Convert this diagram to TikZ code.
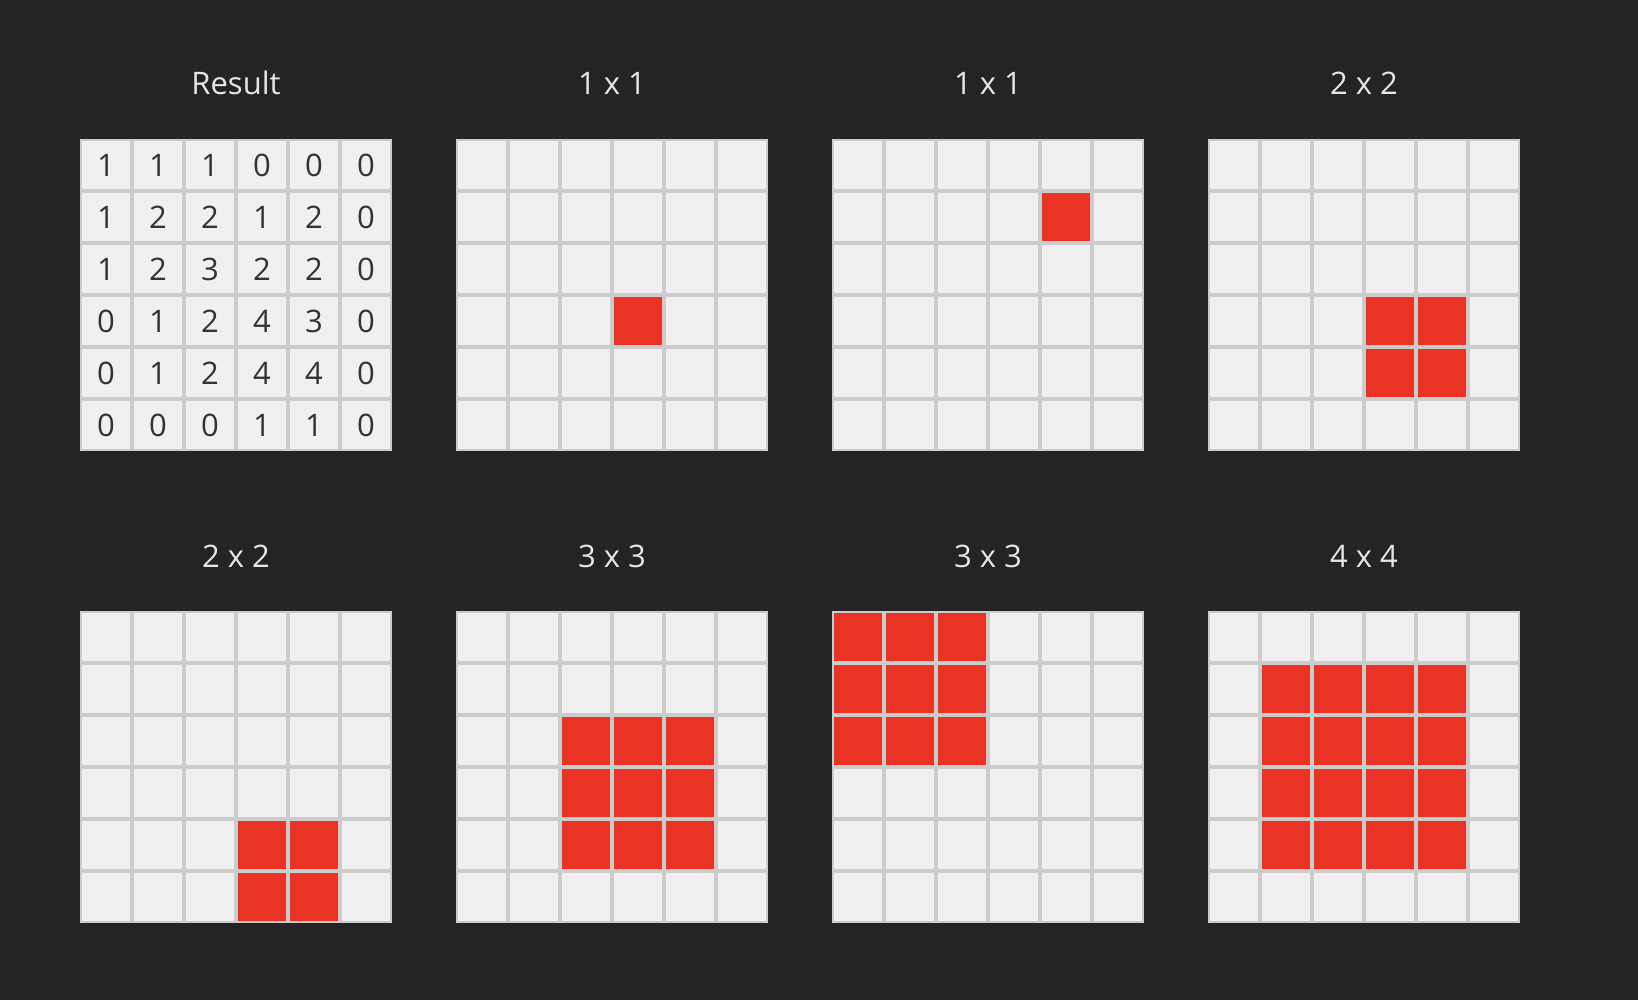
\documentclass[tikz,border=0pt]{standalone}
\usepackage{fontspec}
\setmainfont{Open Sans}
\definecolor{bgcol}{HTML}{242424}
\definecolor{cellcol}{HTML}{F0F0F0}
\definecolor{linecol}{HTML}{CCCCCC}
\definecolor{hitcol}{HTML}{EA3324}
\definecolor{titlecol}{HTML}{E6E6E6}
\definecolor{numcol}{HTML}{333333}
\tikzset{
  panelbox/.style={rectangle, fill=linecol, draw=none, minimum width=312pt, minimum height=312pt, inner sep=0pt, outer sep=0pt, anchor=north west},
  paneltitle/.style={text=titlecol, font=\fontsize{31}{37}\selectfont, inner sep=0pt, anchor=base},
  numtext/.style={text=numcol, font=\fontsize{31}{37}\selectfont, inner sep=0pt, anchor=center},
  cellsq/.style={fill=cellcol},
  hitsq/.style={fill=hitcol}
}
\newcommand\drawpanel[5]{%
  \node[panelbox] (#1) at (#2,#3) {};
  \node[paneltitle] (#1-title) at (#2+156,#3-44) {#4};
  \foreach \cc in {0,...,5}{\foreach \rr in {0,...,5}{%
    \fill[cellsq] (#2+52*\cc+2,#3+52*\rr+2) rectangle ++(48,48);}}
  \foreach \cc/\rr in {#5}{%
    \fill[hitsq] (#2+52*\cc+2,#3+52*\rr+2) rectangle ++(48,48);}
}
\begin{document}
\begin{tikzpicture}[x=1pt,y=-1pt]
\fill[bgcol] (0,0) rectangle (1638,1000);
\useasboundingbox (0,0) rectangle (1638,1000);
% Result panel
\node[panelbox] (result) at (80,139) {};
\node[paneltitle] (result-title) at (236,95) {Result};
\foreach \cc in {0,...,5}{\foreach \rr in {0,...,5}{%
  \fill[cellsq] (80+52*\cc+2,139+52*\rr+2) rectangle ++(48,48);}}
\foreach \row [count=\rr from 0] in {{1,1,1,0,0,0},{1,2,2,1,2,0},{1,2,3,2,2,0},{0,1,2,4,3,0},{0,1,2,4,4,0},{0,0,0,1,1,0}}{%
  \foreach \v [count=\cc from 0] in \row {%
    \node[numtext] (n-\rr-\cc) at (80+52*\cc+26,139+52*\rr+26) {\v};}}
% other panels
\drawpanel{pa}{456}{139}{1 x 1}{3/3}
\drawpanel{pb}{832}{139}{1 x 1}{4/1}
\drawpanel{pc}{1208}{139}{2 x 2}{3/3,4/3,3/4,4/4}
\drawpanel{pd}{80}{611}{2 x 2}{3/4,4/4,3/5,4/5}
\drawpanel{pe}{456}{611}{3 x 3}{2/2,3/2,4/2,2/3,3/3,4/3,2/4,3/4,4/4}
\drawpanel{pf}{832}{611}{3 x 3}{0/0,1/0,2/0,0/1,1/1,2/1,0/2,1/2,2/2}
\drawpanel{pg}{1208}{611}{4 x 4}{1/1,2/1,3/1,4/1,1/2,2/2,3/2,4/2,1/3,2/3,3/3,4/3,1/4,2/4,3/4,4/4}
\end{tikzpicture}
\end{document}
